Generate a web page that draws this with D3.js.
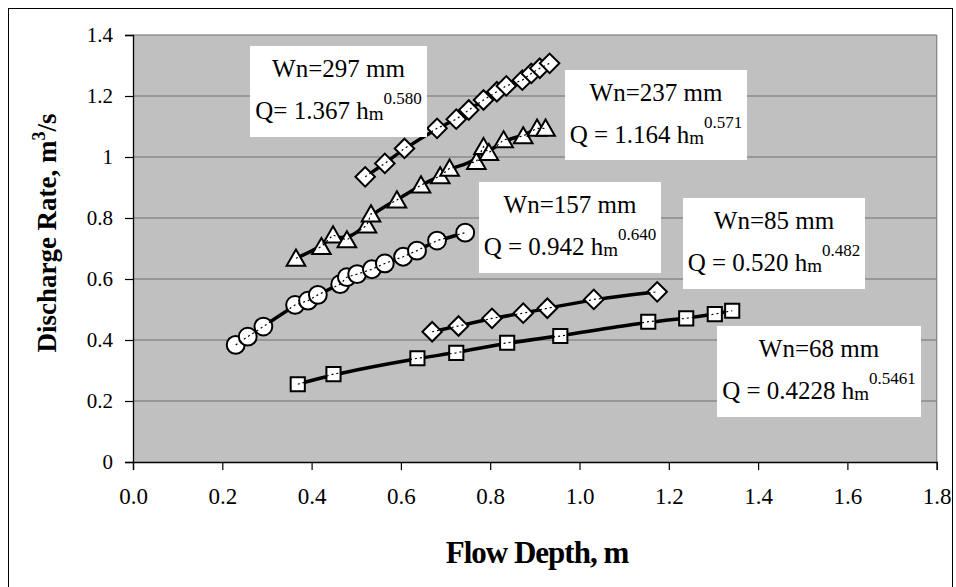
<!DOCTYPE html>
<html>
<head>
<meta charset="utf-8">
<script src="https://cdn.jsdelivr.net/npm/d3@7"></script>
<style>
  body { margin: 0; background: #fff; }
</style>
</head>
<body>
<div id="chart"></div>
<script>
// data (flow depth h in m, discharge Q in m3/s)
const h297 = [0.520, 0.564, 0.608, 0.681, 0.724, 0.752, 0.785, 0.815, 0.836, 0.872, 0.892, 0.911, 0.933];
const q297 = [0.935, 0.979, 1.028, 1.094, 1.124, 1.154, 1.187, 1.214, 1.233, 1.252, 1.274, 1.291, 1.307];

const h237 = [0.365, 0.422, 0.448, 0.479, 0.524, 0.533, 0.591, 0.645, 0.688, 0.709, 0.769, 0.785, 0.797, 0.830, 0.874, 0.905, 0.924];
const q237 = [0.668, 0.706, 0.744, 0.728, 0.777, 0.813, 0.859, 0.908, 0.938, 0.963, 0.985, 1.034, 1.014, 1.056, 1.069, 1.094, 1.094];

const h157 = [0.230, 0.257, 0.292, 0.363, 0.392, 0.414, 0.464, 0.479, 0.502, 0.535, 0.564, 0.605, 0.636, 0.681, 0.744];
const q157 = [0.384, 0.411, 0.444, 0.515, 0.529, 0.548, 0.583, 0.606, 0.616, 0.632, 0.651, 0.673, 0.693, 0.726, 0.752];

const h85 = [0.670, 0.729, 0.804, 0.874, 0.928, 1.032, 1.174];
const q85 = [0.427, 0.446, 0.471, 0.488, 0.504, 0.533, 0.558];

const h68 = [0.369, 0.449, 0.637, 0.724, 0.838, 0.957, 1.154, 1.239, 1.303, 1.342];
const q68 = [0.255, 0.288, 0.340, 0.358, 0.391, 0.413, 0.460, 0.471, 0.485, 0.496];

const xTicks = [0, 0.2, 0.4, 0.6, 0.8, 1.0, 1.2, 1.4, 1.6, 1.8];
const yTicks = [0, 0.2, 0.4, 0.6, 0.8, 1, 1.2, 1.4];

const nameLabels = ["Wn=297 mm", "Wn=237 mm", "Wn=157 mm", "Wn=85 mm", "Wn=68 mm"];
const eqLabels = ["Q= 1.367 h", "Q = 1.164 h", "Q = 0.942 h", "Q = 0.520 h", "Q = 0.4228 h"];
const eqPowers = ["0.580", "0.571", "0.640", "0.482", "0.5461"];

// layout
const W = 956, H = 587;
const plot = { left: 133, right: 936.7, top: 35, bottom: 462 };
const serif = "'Liberation Serif', 'DejaVu Serif', serif";

const svg = d3.select("#chart").append("svg")
  .attr("width", W).attr("height", H)
  .style("font-family", serif);

// outer frame
svg.append("rect")
  .attr("x", 8.5).attr("y", 8.5)
  .attr("width", 944).attr("height", 585)
  .attr("fill", "#fff").attr("stroke", "#000").attr("stroke-width", 1);

const x = d3.scaleLinear().domain([0, 1.8]).range([plot.left, plot.right]);
const y = d3.scaleLinear().domain([0, 1.4]).range([plot.bottom, plot.top]);

// plot background
svg.append("rect")
  .attr("x", plot.left).attr("y", plot.top)
  .attr("width", plot.right - plot.left).attr("height", plot.bottom - plot.top)
  .attr("fill", "#c0c0c0");

// gridlines
svg.append("g").selectAll("line")
  .data(yTicks.filter((d) => d > 0))
  .join("line")
  .attr("x1", plot.left).attr("x2", plot.right)
  .attr("y1", (d) => y(d)).attr("y2", (d) => y(d))
  .attr("stroke", "#6e6e6e").attr("stroke-width", 1.2);

// right border of plot area
svg.append("line")
  .attr("x1", plot.right).attr("x2", plot.right)
  .attr("y1", plot.top).attr("y2", plot.bottom)
  .attr("stroke", "#808080").attr("stroke-width", 1.2);

// axes
const xAxis = svg.append("g")
  .attr("transform", `translate(0,${plot.bottom})`)
  .call(d3.axisBottom(x).tickValues(xTicks).tickFormat(d3.format(".1f")).tickSize(8).tickPadding(18));
const yAxis = svg.append("g")
  .attr("transform", `translate(${plot.left},0)`)
  .call(d3.axisLeft(y).tickValues(yTicks).tickFormat((d) => String(d)).tickSize(8).tickPadding(12));

[xAxis, yAxis].forEach((a) => {
  a.attr("font-family", null);
  a.select(".domain").attr("stroke", "#000").attr("stroke-width", 1.3);
  a.selectAll(".tick line").attr("stroke", "#000").attr("stroke-width", 1.2);
});
xAxis.selectAll(".tick text")
  .attr("font-size", 23).attr("fill", "#000").style("font-family", serif);
yAxis.selectAll(".tick text")
  .attr("font-size", 21).attr("fill", "#000").style("font-family", serif);

// axis titles
svg.append("text")
  .attr("x", 537).attr("y", 563)
  .attr("text-anchor", "middle")
  .style("font-family", serif)
  .attr("font-size", 31).attr("font-weight", "bold")
  .attr("letter-spacing", -1)
  .text("Flow Depth, m");

const yTitle = svg.append("text")
  .attr("transform", "translate(56,233) rotate(-90)")
  .attr("text-anchor", "middle")
  .style("font-family", serif)
  .attr("font-size", 27).attr("font-weight", "bold");
yTitle.append("tspan").text("Discharge Rate, m");
yTitle.append("tspan").attr("font-size", 18).attr("dy", -11).text("3");
yTitle.append("tspan").attr("dy", 11).text("/s");

// series
const series = [
  { h: h297, q: q297, shape: d3.symbolSquare, size: 190, rot: 45 },
  { h: h237, q: q237, shape: d3.symbolTriangle, size: 150, rot: 0 },
  { h: h157, q: q157, shape: d3.symbolCircle, size: 250, rot: 0 },
  { h: h85, q: q85, shape: d3.symbolSquare, size: 190, rot: 45 },
  { h: h68, q: q68, shape: d3.symbolSquare, size: 200, rot: 0 },
];

series.forEach((s) => {
  const pts = s.h.map((v, i) => [v, s.q[i]]);
  const sorted = pts.slice().sort((a, b) => a[0] - b[0]);
  // thick trend line
  svg.append("path")
    .attr("d", d3.line().x((d) => x(d[0])).y((d) => y(d[1])).curve(d3.curveBasis)(sorted))
    .attr("fill", "none").attr("stroke", "#000").attr("stroke-width", 3.5);
  // markers
  svg.append("g").selectAll("path")
    .data(pts)
    .join("path")
    .attr("transform", (d) => {
      const off = s.shape === d3.symbolTriangle ? 2 : 0;
      return `translate(${x(d[0])},${y(d[1]) + off}) rotate(${s.rot})`;
    })
    .attr("d", d3.symbol().type(s.shape).size(s.size))
    .attr("fill", "#fff").attr("stroke", "#000").attr("stroke-width", 2);
  // thin dashed data line on top of markers
  svg.append("path")
    .attr("d", d3.line().x((d) => x(d[0])).y((d) => y(d[1]))(sorted))
    .attr("fill", "none").attr("stroke", "#000").attr("stroke-width", 1.2)
    .attr("stroke-dasharray", "2,3");
});

// annotation boxes (pixel boxes: x0, y0, x1, y1)
const boxes = [
  [250, 46, 427, 137],
  [565, 70, 747, 160],
  [479, 182, 661, 273],
  [683, 198, 865, 289],
  [717, 326, 921, 417],
];

boxes.forEach((b, i) => {
  const g = svg.append("g");
  g.append("rect")
    .attr("x", b[0]).attr("y", b[1])
    .attr("width", b[2] - b[0]).attr("height", b[3] - b[1])
    .attr("fill", "#fff");
  const cx = (b[0] + b[2]) / 2;
  g.append("text")
    .attr("x", cx).attr("y", b[1] + 31)
    .attr("text-anchor", "middle").attr("font-size", 25)
    .style("font-family", serif)
    .text(nameLabels[i]);
  const t = g.append("text")
    .attr("x", cx).attr("y", b[1] + 73)
    .attr("text-anchor", "middle").attr("font-size", 25)
    .style("font-family", serif);
  t.append("tspan").text(eqLabels[i]);
  t.append("tspan").attr("font-size", 19).attr("dy", 1).text("m");
  t.append("tspan").attr("font-size", 17).attr("dy", -16).text(eqPowers[i]);
});
</script>
</body>
</html>
